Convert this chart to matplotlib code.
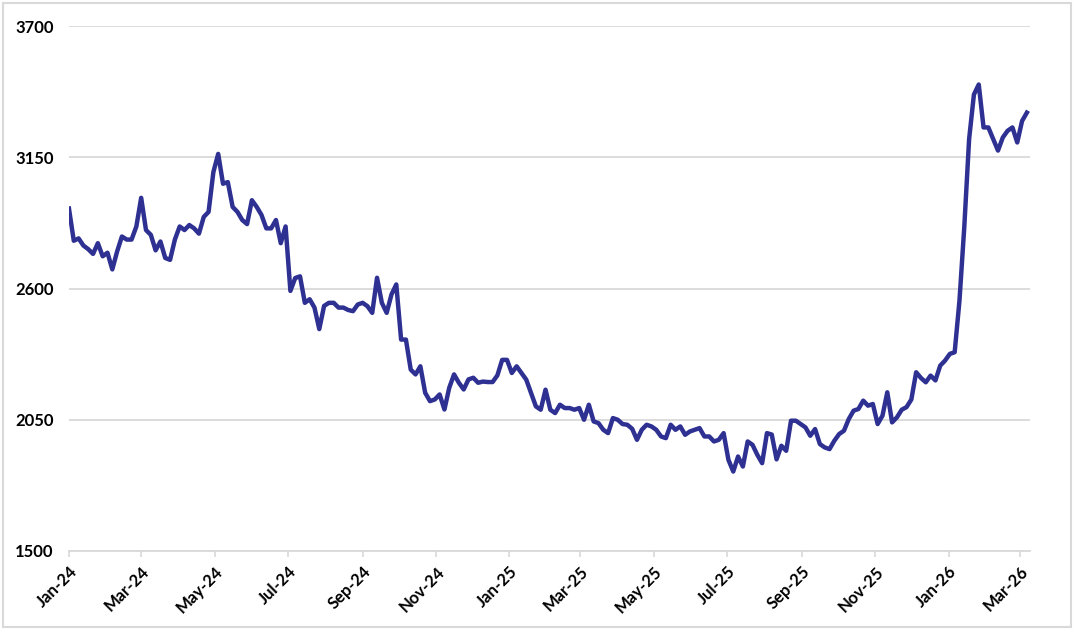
import matplotlib
matplotlib.use("Agg")
import matplotlib.pyplot as plt
import matplotlib.dates as mdates
from matplotlib.patches import Rectangle
import pandas as pd

plt.rcParams['font.family'] = ['Lato', 'DejaVu Sans']

# Series values, one reading every 4 days starting 1 Jan 2024
start_date = "2024-01-01"
step_days = 4
values = [
    2935, 2800, 2810, 2780, 2765, 2745, 2790, 2735, 2750, 2680,
    2755, 2818, 2805, 2805, 2860, 2980, 2845, 2825, 2760, 2797,
    2728, 2720, 2805, 2860, 2845, 2866, 2852, 2830, 2900, 2921,
    3088, 3164, 3039, 3046, 2942, 2921, 2887, 2870, 2970, 2942,
    2908, 2852, 2852, 2887, 2790, 2860, 2590, 2644, 2651, 2540,
    2555, 2520, 2430, 2527, 2540, 2540, 2520, 2520, 2510, 2505,
    2533, 2540, 2526, 2498, 2645, 2540, 2498, 2575, 2617, 2386,
    2386, 2260, 2240, 2274, 2163, 2128, 2135, 2156, 2093, 2184,
    2240, 2205, 2177, 2219, 2226, 2205, 2210, 2208, 2208, 2236,
    2301, 2301, 2246, 2274, 2246, 2218, 2162, 2106, 2092, 2176,
    2092, 2078, 2113, 2099, 2099, 2092, 2099, 2050, 2113, 2043,
    2036, 2008, 1994, 2057, 2050, 2032, 2029, 2012, 1966, 2008,
    2029, 2022, 2008, 1980, 1973, 2029, 2008, 2022, 1987, 2001,
    2008, 2015, 1980, 1980, 1959, 1966, 1994, 1882, 1833, 1896,
    1854, 1959, 1945, 1903, 1868, 1994, 1988, 1884, 1941, 1920,
    2046, 2046, 2032, 2018, 1983, 2011, 1948, 1934, 1927, 1962,
    1990, 2004, 2053, 2088, 2095, 2130, 2109, 2116, 2032, 2067,
    2165, 2039, 2060, 2092, 2103, 2135, 2249, 2225, 2207, 2235,
    2215, 2277, 2298, 2326, 2333, 2550, 2859, 3226, 3413, 3455,
    3275, 3275, 3226, 3178, 3233, 3261, 3275, 3212, 3302, 3337,
]
y_ticks = [1500, 2050, 2600, 3150, 3700]
x_start = "2024-01-01"
x_end = "2026-03-10"

dates = pd.date_range(start_date, periods=len(values), freq=f"{step_days}D")

fig = plt.figure(figsize=(10.76, 6.30), dpi=100)
fig.patch.set_facecolor("white")
fig.patches.append(Rectangle((0.003, 0.005), 0.992, 0.99, transform=fig.transFigure,
                             fill=False, edgecolor="#D9D9D9", linewidth=1.5))

ax = fig.add_axes([0.0641, 0.1254, 0.8936, 0.8333])
ax.plot(dates, values, color="#2E3192", linewidth=3.2, solid_joinstyle="round")

ax.set_ylim(y_ticks[0], y_ticks[-1])
ax.set_yticks(y_ticks)
ax.yaxis.grid(True, color="#D9D9D9", linewidth=1.3)
ax.set_axisbelow(True)

ax.set_xlim(pd.Timestamp(x_start), pd.Timestamp(x_end))
ax.xaxis.set_major_locator(mdates.MonthLocator(bymonth=[1, 3, 5, 7, 9, 11]))
ax.xaxis.set_major_formatter(mdates.DateFormatter("%b-%y"))

for s in ["top", "right", "left"]:
    ax.spines[s].set_visible(False)
ax.spines["bottom"].set_color("#D9D9D9")
ax.spines["bottom"].set_linewidth(1.3)

ax.tick_params(axis="y", length=0, pad=11, labelsize=12, labelcolor="black")
ax.tick_params(axis="x", length=4, width=1.2, color="#D9D9D9", pad=5,
               labelsize=12, labelcolor="black")
for lab in ax.get_yticklabels():
    lab.set_fontweight("bold")
for lab in ax.get_xticklabels():
    lab.set_fontweight("bold")
    lab.set_rotation(45)
    lab.set_ha("right")
    lab.set_rotation_mode("anchor")

fig.savefig("out.png", dpi=100, facecolor="white")
